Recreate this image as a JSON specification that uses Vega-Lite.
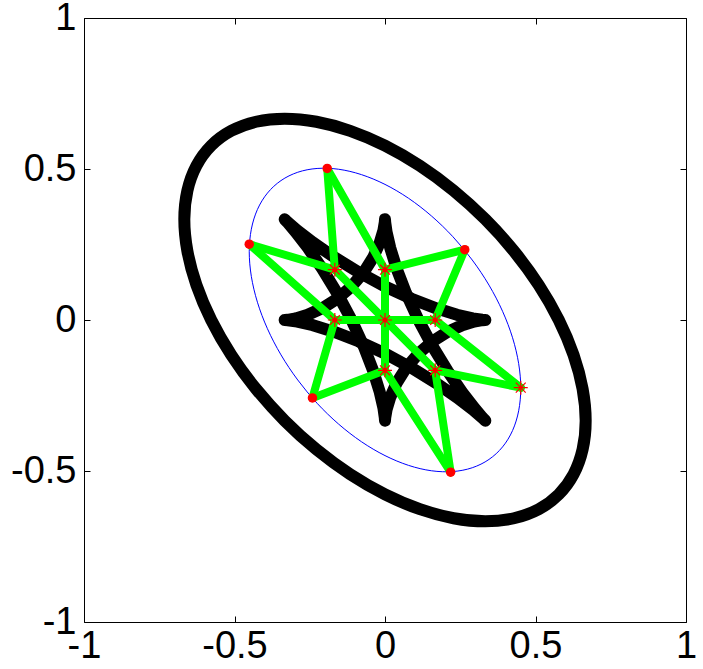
{
  "$schema": "https://vega.github.io/schema/vega-lite/v6.json",
  "width": 602,
  "height": 604,
  "autosize": "none",
  "padding": {"left": 84, "top": 18, "right": 17, "bottom": 47},
  "background": "white",
  "config": {
    "view": {"stroke": null},
    "axis": {
      "grid": false,
      "domain": true,
      "domainColor": "black",
      "domainWidth": 1,
      "ticks": true,
      "tickColor": "black",
      "tickWidth": 1,
      "tickSize": -6,
      "labelFont": "Liberation Sans",
      "labelFontSize": 38,
      "labelColor": "black",
      "labelFlush": false,
      "labelOverlap": false,
      "labelBound": false,
      "title": null
    }
  },
  "datasets": {
    "outer": [
      {"i": 0, "x": 0.5774, "y": 0},
      {"i": 1, "x": 0.5107, "y": 0.1158},
      {"i": 2, "x": 0.4285, "y": 0.2280},
      {"i": 3, "x": 0.3333, "y": 0.3333},
      {"i": 4, "x": 0.2280, "y": 0.4285},
      {"i": 5, "x": 0.1158, "y": 0.5107},
      {"i": 6, "x": 0, "y": 0.5774},
      {"i": 7, "x": -0.1158, "y": 0.6265},
      {"i": 8, "x": -0.2280, "y": 0.6565},
      {"i": 9, "x": -0.3333, "y": 0.6667},
      {"i": 10, "x": -0.4285, "y": 0.6565},
      {"i": 11, "x": -0.5107, "y": 0.6265},
      {"i": 12, "x": -0.5774, "y": 0.5774},
      {"i": 13, "x": -0.6265, "y": 0.5107},
      {"i": 14, "x": -0.6565, "y": 0.4285},
      {"i": 15, "x": -0.6667, "y": 0.3333},
      {"i": 16, "x": -0.6565, "y": 0.2280},
      {"i": 17, "x": -0.6265, "y": 0.1158},
      {"i": 18, "x": -0.5774, "y": 0},
      {"i": 19, "x": -0.5107, "y": -0.1158},
      {"i": 20, "x": -0.4285, "y": -0.2280},
      {"i": 21, "x": -0.3333, "y": -0.3333},
      {"i": 22, "x": -0.2280, "y": -0.4285},
      {"i": 23, "x": -0.1158, "y": -0.5107},
      {"i": 24, "x": 0, "y": -0.5774},
      {"i": 25, "x": 0.1158, "y": -0.6265},
      {"i": 26, "x": 0.2280, "y": -0.6565},
      {"i": 27, "x": 0.3333, "y": -0.6667},
      {"i": 28, "x": 0.4285, "y": -0.6565},
      {"i": 29, "x": 0.5107, "y": -0.6265},
      {"i": 30, "x": 0.5774, "y": -0.5774},
      {"i": 31, "x": 0.6265, "y": -0.5107},
      {"i": 32, "x": 0.6565, "y": -0.4285},
      {"i": 33, "x": 0.6667, "y": -0.3333},
      {"i": 34, "x": 0.6565, "y": -0.2280},
      {"i": 35, "x": 0.6265, "y": -0.1158}
    ],
    "blue": [
      {"i": 0, "x": 0.451, "y": -0.226},
      {"i": 1, "x": 0.4441, "y": -0.1446},
      {"i": 2, "x": 0.4238, "y": -0.0588},
      {"i": 3, "x": 0.3906, "y": 0.0288},
      {"i": 4, "x": 0.3455, "y": 0.1155},
      {"i": 5, "x": 0.2899, "y": 0.1986},
      {"i": 6, "x": 0.2255, "y": 0.2758},
      {"i": 7, "x": 0.1542, "y": 0.3446},
      {"i": 8, "x": 0.0783, "y": 0.4030},
      {"i": 9, "x": 0, "y": 0.449},
      {"i": 10, "x": -0.0783, "y": 0.4814},
      {"i": 11, "x": -0.1542, "y": 0.4992},
      {"i": 12, "x": -0.2255, "y": 0.5018},
      {"i": 13, "x": -0.2899, "y": 0.4892},
      {"i": 14, "x": -0.3455, "y": 0.4617},
      {"i": 15, "x": -0.3906, "y": 0.4202},
      {"i": 16, "x": -0.4238, "y": 0.3660},
      {"i": 17, "x": -0.4441, "y": 0.3006},
      {"i": 18, "x": -0.451, "y": 0.226},
      {"i": 19, "x": -0.4441, "y": 0.1446},
      {"i": 20, "x": -0.4238, "y": 0.0588},
      {"i": 21, "x": -0.3906, "y": -0.0288},
      {"i": 22, "x": -0.3455, "y": -0.1155},
      {"i": 23, "x": -0.2899, "y": -0.1986},
      {"i": 24, "x": -0.2255, "y": -0.2758},
      {"i": 25, "x": -0.1542, "y": -0.3446},
      {"i": 26, "x": -0.0783, "y": -0.4030},
      {"i": 27, "x": 0, "y": -0.449},
      {"i": 28, "x": 0.0783, "y": -0.4814},
      {"i": 29, "x": 0.1542, "y": -0.4992},
      {"i": 30, "x": 0.2255, "y": -0.5018},
      {"i": 31, "x": 0.2899, "y": -0.4892},
      {"i": 32, "x": 0.3455, "y": -0.4617},
      {"i": 33, "x": 0.3906, "y": -0.4202},
      {"i": 34, "x": 0.4238, "y": -0.3660},
      {"i": 35, "x": 0.4441, "y": -0.3006}
    ],
    "star": [
      {"d": "A", "i": 0, "x": 0.33333, "y": 0},
      {"d": "A", "i": 1, "x": 0.32292, "y": 0.00068},
      {"d": "A", "i": 2, "x": 0.29129, "y": 0.00529},
      {"d": "A", "i": 3, "x": 0.23941, "y": 0.01719},
      {"d": "A", "i": 4, "x": 0.17023, "y": 0.03859},
      {"d": "A", "i": 5, "x": 0.08844, "y": 0.07022},
      {"d": "A", "i": 6, "x": 0, "y": 0.11111},
      {"d": "A", "i": 7, "x": -0.08844, "y": 0.15866},
      {"d": "A", "i": 8, "x": -0.17023, "y": 0.20882},
      {"d": "A", "i": 9, "x": -0.23941, "y": 0.25660},
      {"d": "A", "i": 10, "x": -0.29129, "y": 0.29658},
      {"d": "A", "i": 11, "x": -0.32292, "y": 0.32359},
      {"d": "A", "i": 12, "x": -0.33333, "y": 0.33333},
      {"d": "A", "i": 13, "x": -0.32360, "y": 0.32292},
      {"d": "A", "i": 14, "x": -0.29658, "y": 0.29129},
      {"d": "A", "i": 15, "x": -0.25660, "y": 0.23941},
      {"d": "A", "i": 16, "x": -0.20882, "y": 0.17023},
      {"d": "A", "i": 17, "x": -0.15866, "y": 0.08844},
      {"d": "A", "i": 18, "x": -0.11111, "y": 0},
      {"d": "A", "i": 19, "x": -0.07022, "y": -0.08844},
      {"d": "A", "i": 20, "x": -0.03859, "y": -0.17023},
      {"d": "A", "i": 21, "x": -0.01719, "y": -0.23941},
      {"d": "A", "i": 22, "x": -0.00529, "y": -0.29129},
      {"d": "A", "i": 23, "x": -0.00068, "y": -0.32292},
      {"d": "A", "i": 24, "x": 0, "y": -0.33333},
      {"d": "A", "i": 25, "x": 0.00068, "y": -0.32359},
      {"d": "A", "i": 26, "x": 0.00529, "y": -0.29658},
      {"d": "A", "i": 27, "x": 0.01719, "y": -0.25660},
      {"d": "A", "i": 28, "x": 0.03859, "y": -0.20882},
      {"d": "A", "i": 29, "x": 0.07022, "y": -0.15866},
      {"d": "A", "i": 30, "x": 0.11111, "y": -0.11111},
      {"d": "A", "i": 31, "x": 0.15866, "y": -0.07022},
      {"d": "A", "i": 32, "x": 0.20882, "y": -0.03859},
      {"d": "A", "i": 33, "x": 0.25660, "y": -0.01719},
      {"d": "A", "i": 34, "x": 0.29658, "y": -0.00529},
      {"d": "A", "i": 35, "x": 0.32360, "y": -0.00068},
      {"d": "A", "i": 36, "x": 0.33333, "y": 0},
      {"d": "B", "i": 0, "x": -0.33333, "y": 0},
      {"d": "B", "i": 1, "x": -0.32292, "y": -0.00068},
      {"d": "B", "i": 2, "x": -0.29129, "y": -0.00529},
      {"d": "B", "i": 3, "x": -0.23941, "y": -0.01719},
      {"d": "B", "i": 4, "x": -0.17023, "y": -0.03859},
      {"d": "B", "i": 5, "x": -0.08844, "y": -0.07022},
      {"d": "B", "i": 6, "x": 0, "y": -0.11111},
      {"d": "B", "i": 7, "x": 0.08844, "y": -0.15866},
      {"d": "B", "i": 8, "x": 0.17023, "y": -0.20882},
      {"d": "B", "i": 9, "x": 0.23941, "y": -0.25660},
      {"d": "B", "i": 10, "x": 0.29129, "y": -0.29658},
      {"d": "B", "i": 11, "x": 0.32292, "y": -0.32359},
      {"d": "B", "i": 12, "x": 0.33333, "y": -0.33333},
      {"d": "B", "i": 13, "x": 0.32360, "y": -0.32292},
      {"d": "B", "i": 14, "x": 0.29658, "y": -0.29129},
      {"d": "B", "i": 15, "x": 0.25660, "y": -0.23941},
      {"d": "B", "i": 16, "x": 0.20882, "y": -0.17023},
      {"d": "B", "i": 17, "x": 0.15866, "y": -0.08844},
      {"d": "B", "i": 18, "x": 0.11111, "y": 0},
      {"d": "B", "i": 19, "x": 0.07022, "y": 0.08844},
      {"d": "B", "i": 20, "x": 0.03859, "y": 0.17023},
      {"d": "B", "i": 21, "x": 0.01719, "y": 0.23941},
      {"d": "B", "i": 22, "x": 0.00529, "y": 0.29129},
      {"d": "B", "i": 23, "x": 0.00068, "y": 0.32292},
      {"d": "B", "i": 24, "x": 0, "y": 0.33333},
      {"d": "B", "i": 25, "x": -0.00068, "y": 0.32359},
      {"d": "B", "i": 26, "x": -0.00529, "y": 0.29658},
      {"d": "B", "i": 27, "x": -0.01719, "y": 0.25660},
      {"d": "B", "i": 28, "x": -0.03859, "y": 0.20882},
      {"d": "B", "i": 29, "x": -0.07022, "y": 0.15866},
      {"d": "B", "i": 30, "x": -0.11111, "y": 0.11111},
      {"d": "B", "i": 31, "x": -0.15866, "y": 0.07022},
      {"d": "B", "i": 32, "x": -0.20882, "y": 0.03859},
      {"d": "B", "i": 33, "x": -0.25660, "y": 0.01719},
      {"d": "B", "i": 34, "x": -0.29658, "y": 0.00529},
      {"d": "B", "i": 35, "x": -0.32360, "y": 0.00068},
      {"d": "B", "i": 36, "x": -0.33333, "y": 0}
    ],
    "segments": [
      {"x": -0.192, "y": 0.502, "x2": -0.1667, "y2": 0.1667},
      {"x": -0.192, "y": 0.502, "x2": 0, "y2": 0.1667},
      {"x": 0.265, "y": 0.233, "x2": 0, "y2": 0.1667},
      {"x": 0.265, "y": 0.233, "x2": 0.1667, "y2": 0},
      {"x": -0.451, "y": 0.251, "x2": -0.1667, "y2": 0.1667},
      {"x": -0.451, "y": 0.251, "x2": -0.1667, "y2": 0},
      {"x": -0.241, "y": -0.258, "x2": -0.1667, "y2": 0},
      {"x": -0.241, "y": -0.258, "x2": 0, "y2": -0.1667},
      {"x": 0.218, "y": -0.504, "x2": 0, "y2": -0.1667},
      {"x": 0.218, "y": -0.504, "x2": 0.1667, "y2": -0.1667},
      {"x": 0.451, "y": -0.224, "x2": 0.1667, "y2": 0},
      {"x": 0.451, "y": -0.224, "x2": 0.1667, "y2": -0.1667},
      {"x": -0.1667, "y": 0.1667, "x2": 0.1667, "y2": -0.1667},
      {"x": 0, "y": 0.1667, "x2": 0, "y2": -0.1667},
      {"x": -0.1667, "y": 0, "x2": 0.1667, "y2": 0}
    ],
    "dots": [
      {"x": -0.192, "y": 0.502, "kind": "outer"},
      {"x": 0.265, "y": 0.233, "kind": "outer"},
      {"x": -0.451, "y": 0.251, "kind": "outer"},
      {"x": -0.241, "y": -0.258, "kind": "outer"},
      {"x": 0.218, "y": -0.504, "kind": "outer"},
      {"x": -0.1667, "y": 0.1667, "kind": "inner"},
      {"x": 0, "y": 0.1667, "kind": "inner"},
      {"x": -0.1667, "y": 0, "kind": "inner"},
      {"x": 0, "y": 0, "kind": "inner"},
      {"x": 0.1667, "y": 0, "kind": "inner"},
      {"x": 0, "y": -0.1667, "kind": "inner"},
      {"x": 0.1667, "y": -0.1667, "kind": "inner"}
    ],
    "stars": [
      {"x": 0.451, "y": -0.224},
      {"x": -0.1667, "y": 0.1667},
      {"x": 0, "y": 0.1667},
      {"x": -0.1667, "y": 0},
      {"x": 0, "y": 0},
      {"x": 0.1667, "y": 0},
      {"x": 0, "y": -0.1667},
      {"x": 0.1667, "y": -0.1667}
    ]
  },
  "resolve": {"axis": {"x": "independent", "y": "independent"}},
  "layer": [
    {
      "data": {"name": "outer"},
      "mark": {"type": "line", "interpolate": "cardinal-closed", "stroke": "black", "strokeWidth": 12},
      "encoding": {
        "x": {"field": "x", "type": "quantitative", "scale": {"domain": [-1, 1], "nice": false, "zero": false},
          "axis": {"orient": "bottom", "values": [-1, -0.5, 0, 0.5, 1], "labelPadding": 11,
            "labelExpr": "datum.value < 0 ? '-' + format(-datum.value, '~g') : format(datum.value, '~g')"}},
        "y": {"field": "y", "type": "quantitative", "scale": {"domain": [-1, 1], "nice": false, "zero": false},
          "axis": {"orient": "left", "values": [-1, -0.5, 0, 0.5, 1], "labelPadding": 14,
            "labelExpr": "datum.value < 0 ? '-' + format(-datum.value, '~g') : format(datum.value, '~g')"}},
        "order": {"field": "i", "type": "quantitative"}
      }
    },
    {
      "data": {"name": "blue"},
      "mark": {"type": "line", "interpolate": "cardinal-closed", "stroke": "#0000FF", "strokeWidth": 1},
      "encoding": {
        "x": {"field": "x", "type": "quantitative", "scale": {"domain": [-1, 1], "nice": false, "zero": false},
          "axis": {"orient": "top", "values": [-1, -0.5, 0, 0.5, 1], "labels": false}},
        "y": {"field": "y", "type": "quantitative", "scale": {"domain": [-1, 1], "nice": false, "zero": false},
          "axis": {"orient": "right", "values": [-1, -0.5, 0, 0.5, 1], "labels": false}},
        "order": {"field": "i", "type": "quantitative"}
      }
    },
    {
      "data": {"name": "star"},
      "mark": {"type": "line", "stroke": "black", "strokeWidth": 12, "strokeJoin": "round", "strokeCap": "round"},
      "encoding": {
        "x": {"field": "x", "type": "quantitative", "scale": {"domain": [-1, 1], "nice": false, "zero": false}, "axis": null},
        "y": {"field": "y", "type": "quantitative", "scale": {"domain": [-1, 1], "nice": false, "zero": false}, "axis": null},
        "detail": {"field": "d", "type": "nominal"},
        "order": {"field": "i", "type": "quantitative"}
      }
    },
    {
      "data": {"name": "segments"},
      "mark": {"type": "rule", "stroke": "#00FF00", "strokeWidth": 8, "strokeCap": "round"},
      "encoding": {
        "x": {"field": "x", "type": "quantitative", "scale": {"domain": [-1, 1], "nice": false, "zero": false}, "axis": null},
        "y": {"field": "y", "type": "quantitative", "scale": {"domain": [-1, 1], "nice": false, "zero": false}, "axis": null},
        "x2": {"field": "x2"},
        "y2": {"field": "y2"}
      }
    },
    {
      "data": {"name": "dots"},
      "mark": {"type": "point", "shape": "circle", "filled": true, "color": "#FF0000", "opacity": 1},
      "encoding": {
        "x": {"field": "x", "type": "quantitative", "scale": {"domain": [-1, 1], "nice": false, "zero": false}, "axis": null},
        "y": {"field": "y", "type": "quantitative", "scale": {"domain": [-1, 1], "nice": false, "zero": false}, "axis": null},
        "size": {"field": "kind", "type": "nominal", "scale": {"domain": ["outer", "inner"], "range": [90, 25]}, "legend": null}
      }
    },
    {
      "data": {"name": "stars"},
      "mark": {"type": "point", "shape": "M-1,0L1,0M0,-1L0,1M-0.7071,-0.7071L0.7071,0.7071M-0.7071,0.7071L0.7071,-0.7071", "filled": false, "stroke": "#FF0000", "strokeWidth": 1.2, "size": 196, "opacity": 1},
      "encoding": {
        "x": {"field": "x", "type": "quantitative", "scale": {"domain": [-1, 1], "nice": false, "zero": false}, "axis": null},
        "y": {"field": "y", "type": "quantitative", "scale": {"domain": [-1, 1], "nice": false, "zero": false}, "axis": null}
      }
    }
  ]
}
